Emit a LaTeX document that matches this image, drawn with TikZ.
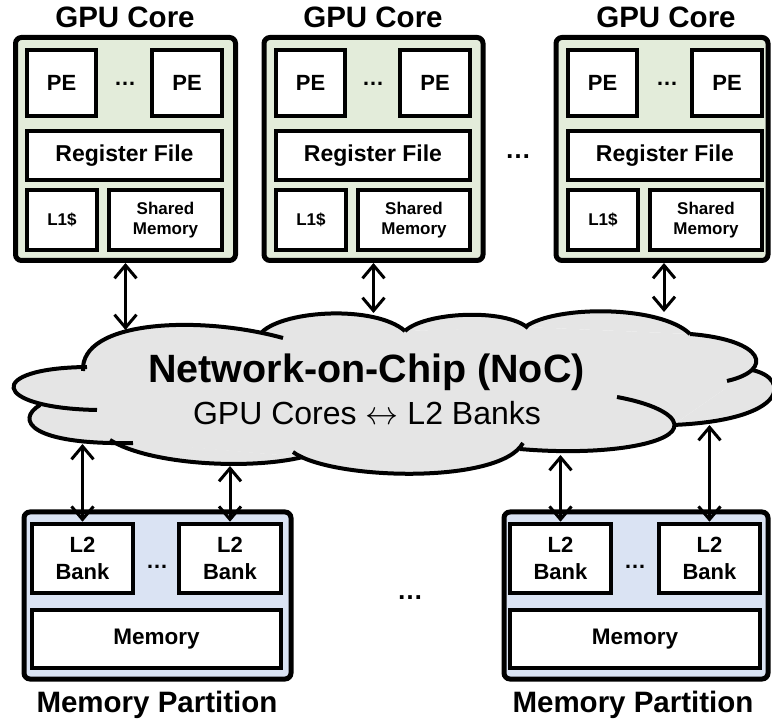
\documentclass[tikz,border=0pt]{standalone}
\usepackage{graphicx}
\usepackage{fontspec}
\setmainfont{Liberation Sans}
\usetikzlibrary{arrows.meta}
\definecolor{coregreen}{HTML}{E3ECDA}
\definecolor{partblue}{HTML}{DAE3F3}
\definecolor{cloudgray}{HTML}{E5E5E5}
\begin{document}
\begin{tikzpicture}[x=1pt,y=-1pt,
  outerbox/.style={draw, line width=5pt, rounded corners=6pt, inner sep=0pt},
  corebox/.style={outerbox, fill=coregreen, minimum height=223pt},
  partbox/.style={outerbox, fill=partblue, minimum height=167pt},
  unit/.style={draw, line width=4.5pt, fill=white, inner sep=0pt, align=center},
  pebox/.style={unit, minimum height=66pt, font=\fontsize{22}{24}\selectfont\bfseries},
  rfbox/.style={unit, minimum height=49pt, font=\fontsize{23}{25}\selectfont\bfseries},
  smallbox/.style={unit, minimum height=60pt, font=\fontsize{17}{20}\selectfont\bfseries},
  bankbox/.style={unit, minimum height=69pt, minimum width=101pt, font=\fontsize{22}{27}\selectfont\bfseries},
  membox/.style={unit, minimum height=58pt, font=\fontsize{22.5}{24}\selectfont\bfseries},
  dotsnode/.style={inner sep=0pt, font=\fontsize{22}{24}\selectfont\bfseries},
  title/.style={inner sep=0pt, anchor=base, font=\fontsize{29.5}{31}\selectfont\bfseries},
  cloudline/.style={line width=4pt},
  biarrow/.style={line width=3pt, >={Straight Barb[length=13pt,width=22pt]}, <->}
]
\useasboundingbox (0,0) rectangle (772,719);

% ---------------- Cloud ----------------
\fill[cloudgray] (85,368) -- (265,331) -- (405,331) -- (527,327) -- (690,334) -- (752,370)
  -- (673,425) -- (520,449) -- (303,457) -- (113,441) -- (40,405) -- cycle;
\fill[cloudgray] (83,371) .. controls (80,320) and (200,315) .. (283,338) -- cycle;
\fill[cloudgray] (262,332) .. controls (285,310) and (375,305) .. (405,331) -- cycle;
\fill[cloudgray] (405,331) .. controls (425,312) and (505,308) .. (528,328) -- cycle;
\fill[cloudgray] (525,327) .. controls (555,305) and (660,305) .. (690,334) -- cycle;
\fill[cloudgray] (690,334) .. controls (765,340) and (775,370) .. (727,381) -- cycle;
\fill[cloudgray] (752,370) .. controls (790,378) and (790,420) .. (673,425) -- cycle;
\fill[cloudgray] (617,397) .. controls (660,405) and (678,418) .. (674,428)
  .. controls (668,445) and (600,456) .. (520,449) -- cycle;
\fill[cloudgray] (293,452) .. controls (330,480) and (500,485) .. (523,443) -- cycle;
\fill[cloudgray] (110,440) .. controls (150,465) and (250,470) .. (303,457) -- cycle;
\fill[cloudgray] (40,405) .. controls (15,420) and (30,445) .. (133,443) -- cycle;
\fill[cloudgray] (87,367) .. controls (-15,368) and (-10,408) .. (97,410) -- cycle;

\draw[cloudline] (83,371) .. controls (80,320) and (200,315) .. (283,338);
\draw[cloudline] (262,332) .. controls (285,310) and (375,305) .. (405,331);
\draw[cloudline] (405,331) .. controls (425,312) and (505,308) .. (528,328);
\draw[cloudline] (525,327) .. controls (555,305) and (660,305) .. (690,334);
\draw[cloudline] (690,334) .. controls (765,340) and (775,370) .. (727,381);
\draw[cloudline] (752,370) .. controls (790,378) and (790,420) .. (673,425);
\draw[cloudline] (617,397) .. controls (660,405) and (678,418) .. (674,428)
  .. controls (668,445) and (600,456) .. (520,449);
\draw[cloudline] (293,452) .. controls (330,480) and (500,485) .. (523,443);
\draw[cloudline] (110,440) .. controls (150,465) and (250,470) .. (303,457);
\draw[cloudline] (40,405) .. controls (15,420) and (30,445) .. (133,443);
\draw[cloudline] (87,367) .. controls (-15,368) and (-10,408) .. (97,410);

\node[inner sep=0pt, anchor=base, font=\fontsize{39.5}{41}\selectfont\bfseries] (noct) at (366.5,383) {Network-on-Chip (NoC)};
\node[inner sep=0pt, anchor=base, font=\fontsize{32}{34}\selectfont] (nocs) at (367,425) {GPU Cores \resizebox{33pt}{!}{$\leftrightarrow$} L2 Banks};

% ---------------- GPU Cores ----------------
\node[title] (t1) at (125,28) {GPU Core};
\node[corebox, minimum width=220pt] (c1) at (125.5,149) {};
\node[pebox, minimum width=69pt] (c1pe1) at (61.5,83) {PE};
\node[pebox, minimum width=70pt] (c1pe2) at (187,83) {PE};
\node[dotsnode] (c1dots) at (125,84) {…};
\node[rfbox, minimum width=195pt] (c1rf) at (124.5,155.5) {Register File};
\node[smallbox, minimum width=70pt] (c1l1) at (62,220) {L1\$};
\node[smallbox, minimum width=113pt] (c1sm) at (165.5,220) {Shared\\Memory};

\node[title] (t2) at (373,28) {GPU Core};
\node[corebox, minimum width=219pt] (c2) at (373.5,149) {};
\node[pebox, minimum width=69pt] (c2pe1) at (310.5,83) {PE};
\node[pebox, minimum width=70pt] (c2pe2) at (435,83) {PE};
\node[dotsnode] (c2dots) at (373,84) {…};
\node[rfbox, minimum width=194pt] (c2rf) at (373,155.5) {Register File};
\node[smallbox, minimum width=70pt] (c2l1) at (311,220) {L1\$};
\node[smallbox, minimum width=112pt] (c2sm) at (414,220) {Shared\\Memory};

\node[title] (t3) at (666,28) {GPU Core};
\node[corebox, minimum width=212pt] (c3) at (662,149) {};
\node[pebox, minimum width=69pt] (c3pe1) at (602.5,83) {PE};
\node[pebox, minimum width=70pt] (c3pe2) at (727,83) {PE};
\node[dotsnode] (c3dots) at (667,84) {…};
\node[rfbox, minimum width=194pt] (c3rf) at (665,155.5) {Register File};
\node[smallbox, minimum width=70pt] (c3l1) at (603,220) {L1\$};
\node[smallbox, minimum width=112pt] (c3sm) at (706,220) {Shared\\Memory};

\node[dotsnode, font=\fontsize{26}{28}\selectfont\bfseries] (coredots) at (518,157) {…};

% ---------------- Memory partitions ----------------
\node[partbox, minimum width=267pt] (p1) at (157.5,595.5) {};
\node[bankbox] (p1b1) at (82.5,558.5) {L2\\Bank};
\node[bankbox, minimum width=102pt] (p1b2) at (230,558.5) {L2\\Bank};
\node[dotsnode] (p1dots) at (157,567) {…};
\node[membox, minimum width=249pt] (p1mem) at (156.5,639) {Memory};
\node[title] (pt1) at (157,712) {Memory Partition};

\node[partbox, minimum width=264pt] (p2) at (636,595.5) {};
\node[bankbox] (p2b1) at (560.5,558.5) {L2\\Bank};
\node[bankbox] (p2b2) at (709.5,558.5) {L2\\Bank};
\node[dotsnode] (p2dots) at (635,567) {…};
\node[membox, minimum width=250pt] (p2mem) at (635,639) {Memory};
\node[title] (pt2) at (633,712) {Memory Partition};

\node[dotsnode, font=\fontsize{26}{28}\selectfont\bfseries] (partdots) at (410,598) {…};

% ---------------- Connectors ----------------
\coordinate (n1) at (125.5,330);
\coordinate (n2) at (373.5,313);
\coordinate (n3) at (664,312);
\coordinate (m1) at (82.5,444);
\coordinate (m2) at (230,466);
\coordinate (m3) at (560.5,455);
\coordinate (m4) at (709.5,425);

\draw[biarrow] (c1.south) -- (n1);
\draw[biarrow] (c2.south) -- (n2);
\draw[biarrow] (c3.south -| n3) -- (n3);
\draw[biarrow] (m1) -- (p1b1.north);
\draw[biarrow] (m2) -- (p1b2.north);
\draw[biarrow] (m3) -- (p2b1.north);
\draw[biarrow] (m4) -- (p2b2.north);
\end{tikzpicture}
\end{document}
